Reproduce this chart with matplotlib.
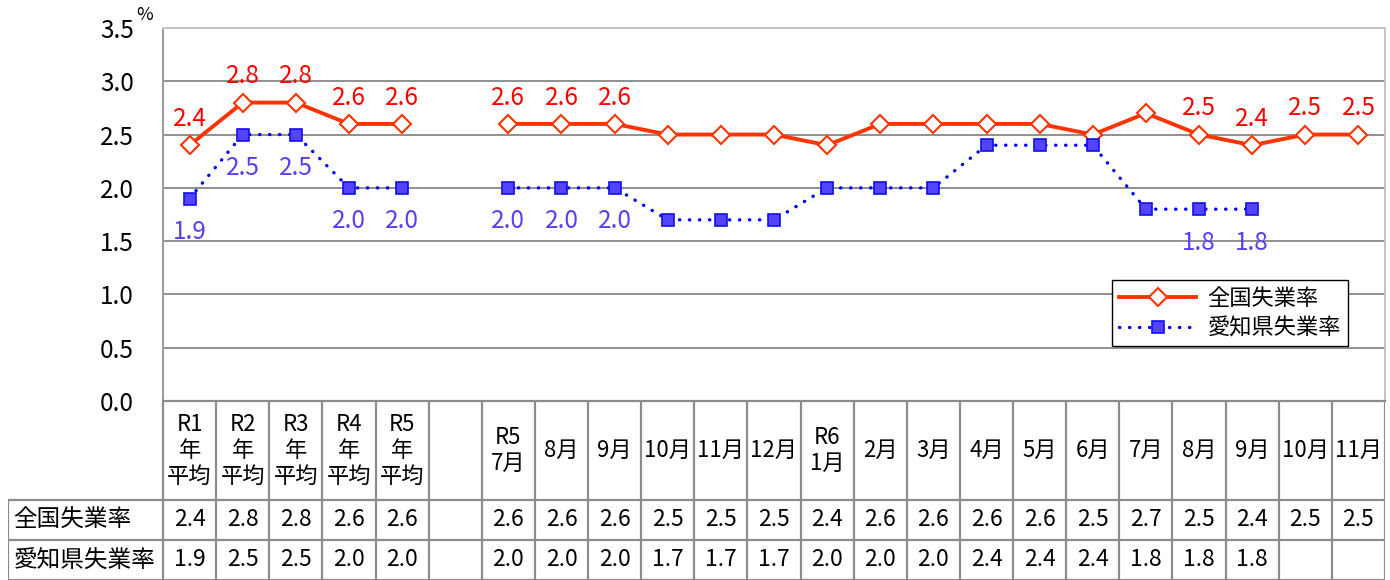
import numpy as np
import matplotlib
matplotlib.use("Agg")
import matplotlib.pyplot as plt

plt.rcParams['font.family'] = ['Noto Sans CJK JP', 'DejaVu Sans']

# column headers of the table (index 5 is the empty spacer column)
categories = ['R1\n年\n平均', 'R2\n年\n平均', 'R3\n年\n平均', 'R4\n年\n平均', 'R5\n年\n平均', '',
              'R5\n7月', '8月', '9月', '10月', '11月', '12月', 'R6\n1月', '2月', '3月',
              '4月', '5月', '6月', '7月', '8月', '9月', '10月', '11月']
nan = np.nan
national = [2.4, 2.8, 2.8, 2.6, 2.6, nan,
            2.6, 2.6, 2.6, 2.5, 2.5, 2.5, 2.4, 2.6, 2.6, 2.6, 2.6, 2.5, 2.7, 2.5, 2.4, 2.5, 2.5]
aichi = [1.9, 2.5, 2.5, 2.0, 2.0, nan,
         2.0, 2.0, 2.0, 1.7, 1.7, 1.7, 2.0, 2.0, 2.0, 2.4, 2.4, 2.4, 1.8, 1.8, 1.8, nan, nan]
series_names = ['全国失業率', '愛知県失業率']
# which points get a value label on the chart
national_labeled = [0, 1, 2, 3, 4, 6, 7, 8, 19, 20, 21, 22]
aichi_labeled = [0, 1, 2, 3, 4, 6, 7, 8, 19, 20]
yticks = [0.0, 0.5, 1.0, 1.5, 2.0, 2.5, 3.0, 3.5]

W, H = 1390, 580
fig = plt.figure(figsize=(W / 100, H / 100), dpi=100)

# plot area in pixels
PL, PR, PT, PB = 163, 1385, 28, 401
ax = fig.add_axes([PL / W, 1 - PB / H, (PR - PL) / W, (PB - PT) / H])
n = len(categories)
x = np.arange(n)
ax.set_xlim(-0.5, n - 0.5)
ax.set_ylim(0, 3.5)
ax.set_yticks(yticks)
ax.set_yticklabels([f'{v:.1f}' for v in yticks], fontsize=17.5)
ax.tick_params(axis='y', length=0, pad=21)
ax.set_xticks([])
ax.grid(axis='y', color='#8f8f8f', lw=1.4)
ax.set_axisbelow(True)
for s in ['top', 'right']:
    ax.spines[s].set_color('#c4c4c4')
    ax.spines[s].set_linewidth(1.4)
ax.spines['left'].set_color('#9a9a9a')
ax.spines['left'].set_linewidth(1.4)
ax.spines['bottom'].set_color('#8c8c8c')
ax.spines['bottom'].set_linewidth(1.6)

red = '#FF3300'
ax.plot(x, national, color=red, lw=2.8, marker='D', ms=9.5, mfc='white', mec=red,
        mew=1.5, label=series_names[0], zorder=3)
ax.plot(x, aichi, color='#0000FF', lw=2.4, ls=(0, (0.1, 2.9)), dash_capstyle='round',
        marker='s', ms=8.5, mfc='#5544FF', mec='#1010EE', mew=1.2,
        label=series_names[1], zorder=3)

for i in national_labeled:
    ax.annotate(f'{national[i]:.1f}', (x[i], national[i]), xytext=(0, 19),
                textcoords='offset points', ha='center', va='center',
                color='#FF0000', fontsize=17.5)
for i in aichi_labeled:
    ax.annotate(f'{aichi[i]:.1f}', (x[i], aichi[i]), xytext=(0, -24),
                textcoords='offset points', ha='center', va='center',
                color='#5B3DF5', fontsize=17.5)

fig.text(136 / W, 1 - 15 / H, '%', fontsize=13, ha='left', va='center')

leg = ax.legend(loc='upper left', bbox_to_anchor=(0.7766, 0.3244), fontsize=16,
                frameon=True, fancybox=False, edgecolor='black', framealpha=1,
                handlelength=3.5, numpoints=1, borderpad=0.3, labelspacing=0.3,
                handletextpad=0.5, borderaxespad=0)
leg.get_frame().set_linewidth(1.0)

# data table below the chart
col_px = (PR - PL) / n
lbl_w = (PL - 8) / col_px
tax = fig.add_axes([8 / W, 0, (PR - 8) / W, 1 - PB / H])
tax.set_xlim(-0.5 - lbl_w, n - 0.5)
hdr, rh = 99, 40
tax.set_ylim(hdr + 2 * rh, 0)
tax.axis('off')
gc = '#8c8c8c'
lw = 1.6
left = -0.5 - lbl_w
tax.plot([left, n - 0.5], [hdr, hdr], color=gc, lw=lw)
tax.plot([left, n - 0.5], [hdr + rh, hdr + rh], color=gc, lw=lw)
tax.plot([left, n - 0.5], [hdr + 2 * rh - 0.5] * 2, color=gc, lw=lw)
tax.plot([left, left], [hdr, hdr + 2 * rh], color=gc, lw=lw)
for i in range(n + 1):
    tax.plot([i - 0.5, i - 0.5], [0, hdr + 2 * rh], color=gc, lw=lw)

for i, c in enumerate(categories):
    tax.text(i, hdr / 2, c, ha='center', va='center', fontsize=16, linespacing=1.18)
    for r, vals in enumerate([national, aichi]):
        if not np.isnan(vals[i]):
            tax.text(i, hdr + rh * r + rh / 2, f'{vals[i]:.1f}', ha='center',
                     va='center', fontsize=16.5)
for r, name in enumerate(series_names):
    tax.text(left + 0.1, hdr + rh * r + rh / 2, name, ha='left', va='center', fontsize=17)

fig.savefig('out.png', dpi=100)
